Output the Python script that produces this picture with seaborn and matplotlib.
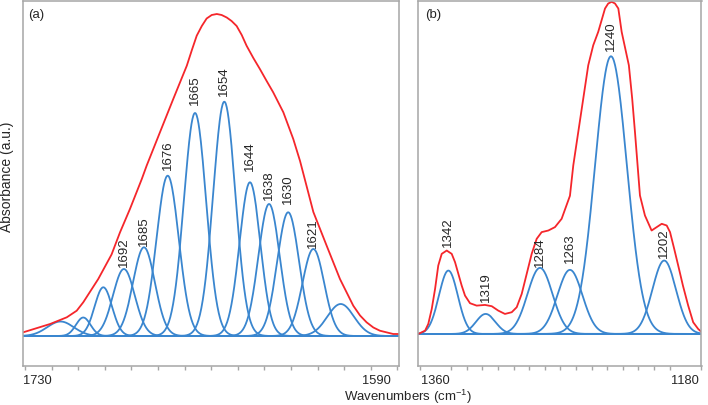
import numpy as np
import pandas as pd
import matplotlib
matplotlib.use("Agg")
import matplotlib.pyplot as plt
import seaborn as sns
from matplotlib.ticker import FixedLocator

# (a) amide I region: fitted component bands
amide_labels = ["", "", "", "1692", "1685", "1676", "1665", "1654", "1644", "1638", "1630", "1621", ""]
amide_centers = [1720.5, 1711.1, 1702.8, 1694.3, 1686.0, 1676.2, 1664.9, 1652.8, 1642.2, 1634.3, 1626.4, 1616.0, 1604.7]
amide_heights = [14.5, 18.5, 48.7, 67.0, 88.7, 160.3, 223.0, 234.3, 153.7, 132.0, 123.7, 87.0, 32.0]
amide_widths = [5.5, 3.0, 3.6, 4.5, 4.5, 4.6, 4.6, 4.6, 4.3, 4.4, 4.5, 4.5, 5.5]

# (a) measured spectrum (red)
amide_spec_x = [1735.9, 1724.8, 1717.9, 1713.8, 1711.1, 1704.9, 1699.4, 1695.9, 1691.8, 1686.9,
                1684.9, 1679.4, 1673.9, 1668.3, 1666.2, 1664.2, 1662.1, 1660.1, 1658.0, 1655.9,
                1653.9, 1651.8, 1649.8, 1647.7, 1645.6, 1643.6, 1640.8, 1638.1, 1635.3, 1632.6,
                1628.4, 1624.3, 1621.5, 1618.8, 1616.0, 1610.5, 1605.0, 1599.5, 1596.7, 1594.0,
                1591.2, 1588.5, 1583.0, 1580.6]
amide_spec_y = [3.7, 12.0, 18.7, 25.3, 33.7, 57.0, 81.5, 103.7, 127.0, 157.0,
                170.3, 203.7, 237.0, 270.3, 286.0, 300.3, 310.0, 317.5, 321.0, 322.0,
                321.0, 318.5, 315.0, 310.0, 301.0, 290.3, 278.0, 267.0, 255.0, 243.7,
                223.7, 197.0, 175.0, 150.0, 124.0, 90.3, 57.0, 30.3, 20.5, 13.7,
                8.5, 5.3, 2.0, 2.0]

# (b) 1360-1180 region: fitted component bands
low_labels = ["1342", "1319", "1284", "1263", "1240", "1202"]
low_centers = [1350.8, 1323.9, 1284.7, 1263.1, 1233.5, 1195.1]
low_heights = [63.3, 20.0, 66.0, 64.0, 277.3, 73.3]
low_widths = [6.8, 7.0, 9.0, 9.0, 11.5, 8.5]

# (b) measured spectrum (red)
low_spec_x = [1372.5, 1367.6, 1365.3, 1362.8, 1360.4, 1358.1, 1355.6, 1352.0, 1348.4, 1346.0,
              1343.6, 1341.2, 1338.8, 1335.2, 1330.4, 1324.4, 1319.5, 1314.8, 1310.0, 1305.1,
              1301.5, 1297.9, 1294.3, 1290.7, 1287.1, 1283.5, 1278.7, 1273.9, 1269.1, 1263.1,
              1260.7, 1257.1, 1253.5, 1249.9, 1246.3, 1242.7, 1237.8, 1235.5, 1233.0, 1230.6,
              1228.2, 1225.8, 1220.6, 1218.2, 1216.2, 1214.3, 1212.6, 1209.0, 1204.2, 1196.9,
              1193.3, 1190.9, 1187.9, 1185.0, 1181.6, 1177.8, 1174.2, 1170.6, 1168.2]
low_spec_y = [0.0, 3.3, 10.0, 25.0, 45.0, 68.3, 80.0, 83.3, 80.0, 71.7,
              60.0, 48.3, 38.3, 30.7, 28.3, 29.0, 27.7, 23.3, 20.0, 21.7,
              26.7, 40.0, 60.0, 80.0, 95.0, 101.7, 103.3, 106.7, 115.0, 138.0,
              168.3, 201.7, 235.0, 268.3, 288.3, 301.7, 325.0, 330.0, 331.7, 330.0,
              325.0, 301.7, 268.3, 235.0, 201.7, 168.3, 138.3, 118.3, 103.3, 110.0,
              108.3, 101.7, 85.0, 68.3, 48.3, 28.3, 11.7, 5.0, 2.0]

BLUE = "#3a86cf"
RED = "#f5262b"
GREY = "#a6a6a6"


def band_table(centers, heights, widths, xmin, xmax):
    """Gaussian component bands in long form"""
    x = np.linspace(xmin, xmax, 800)
    rows = []
    for i, (c, h, w) in enumerate(zip(centers, heights, widths)):
        y = h * np.exp(-0.5 * ((x - c) / w) ** 2)
        rows.append(pd.DataFrame({"x": x, "y": y, "peak": i}))
    return pd.concat(rows, ignore_index=True)


def draw_panel(ax, centers, heights, widths, labels, pads, spec_x, spec_y,
               xlim, ylim, majors, minors, letter, letter_x):
    bands = band_table(centers, heights, widths, min(xlim), max(xlim))
    sns.lineplot(data=bands, x="x", y="y", units="peak", estimator=None,
                 color=BLUE, lw=1.3, ax=ax, legend=False)
    ax.axhline(0, color=BLUE, lw=1.4, zorder=1)
    spec = pd.DataFrame({"x": spec_x, "y": spec_y})
    sns.lineplot(data=spec, x="x", y="y", sort=False, color=RED, lw=1.3, ax=ax)

    for c, h, lab, pad in zip(centers, heights, labels, pads):
        if lab:
            ax.annotate(lab, (c, h), xytext=(0, pad), textcoords="offset points",
                        rotation=90, ha="center", va="bottom", fontsize=9.5)

    ax.set_xlim(*xlim)
    ax.set_ylim(*ylim)
    ax.set_xticks(majors)
    ax.set_xticklabels([str(m) for m in majors])
    ax.xaxis.set_minor_locator(FixedLocator(minors))
    ax.set_yticks([])
    ax.tick_params(axis="x", which="both", bottom=True, direction="out")
    ax.tick_params(axis="x", which="major", length=0, pad=5.5, labelsize=9.3)
    ax.tick_params(axis="x", which="minor", length=3.2, width=1, color=GREY)
    ax.set_xlabel("")
    ax.set_ylabel("")
    for s in ax.spines.values():
        s.set_color(GREY)
        s.set_linewidth(1.1)
    ax.text(letter_x, 0.982, letter, transform=ax.transAxes,
            ha="left", va="top", fontsize=9.5)


def main():
    sns.set_style("white")
    plt.rcParams["font.family"] = ["Liberation Sans", "DejaVu Sans"]
    plt.rcParams["mathtext.fontset"] = "custom"
    plt.rcParams["mathtext.rm"] = "Liberation Sans"

    fig, (ax_a, ax_b) = plt.subplots(1, 2, figsize=(7.08, 4.06), dpi=100,
                                     gridspec_kw={"width_ratios": [376, 283.2]})
    fig.subplots_adjust(left=23 / 708, right=701.5 / 708, bottom=39 / 406, top=404 / 406,
                        wspace=19.3 / 329.6)

    draw_panel(ax_a, amide_centers, amide_heights, amide_widths, amide_labels,
               [0, 0, 0, 2, 2, 5, 6.5, 4.5, 8.5, 3.5, 6.5, 1.5, 0],
               amide_spec_x, amide_spec_y,
               (1736.0, 1580.6), (-30, 335), [1730, 1590],
               np.linspace(1735.2, 1581.3, 15), "(a)", 0.013)
    draw_panel(ax_b, low_centers, low_heights, low_widths, low_labels,
               [18, 9.5, 1.7, 5.5, 4.3, 2.5],
               low_spec_x, low_spec_y,
               (1372.5, 1168.2), (-32, 332.5), [1360, 1180],
               np.linspace(1371.25, 1168.75, 19), "(b)", 0.024)

    fig.text(7.5 / 708, 1 - 176.5 / 406, "Absorbance (a.u.)", rotation=90,
             ha="center", va="center", fontsize=10)
    fig.text(408 / 708, 9 / 406, "Wavenumbers (cm$^{-1}$)",
             ha="center", va="center", fontsize=9.5)

    plt.savefig("out.png", dpi=100)


if __name__ == "__main__":
    main()
